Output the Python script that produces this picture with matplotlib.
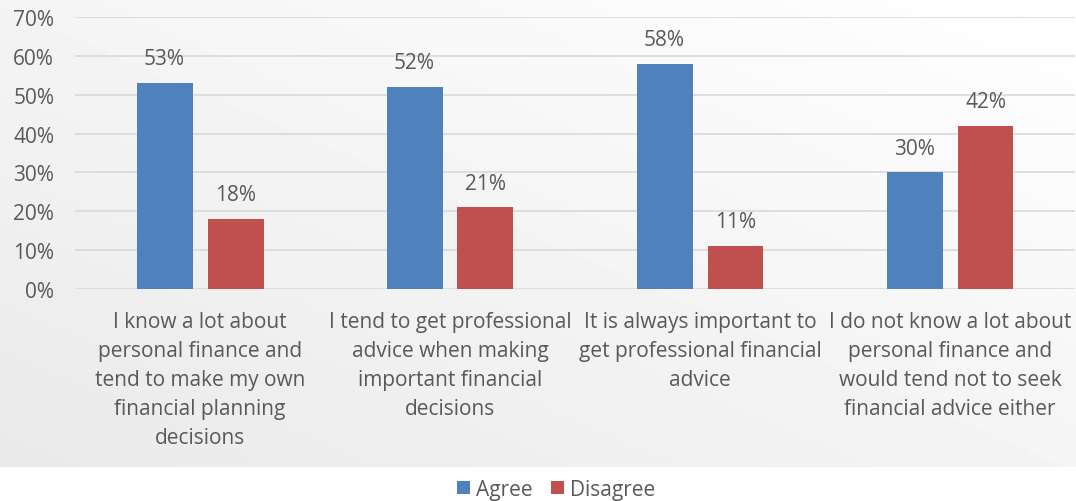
import numpy as np
from matplotlib import pyplot as plt
from matplotlib.ticker import FuncFormatter

categories = [
    "I know a lot about\npersonal finance and\ntend to make my own\nfinancial planning\ndecisions",
    "I tend to get professional\nadvice when making\nimportant financial\ndecisions",
    "It is always important to\nget professional financial\nadvice",
    "I do not know a lot about\npersonal finance and\nwould tend not to seek\nfinancial advice either",
]
agree = [53, 52, 58, 30]
disagree = [18, 21, 11, 42]

text_color = '#595959'
plt.rcParams['font.family'] = ['Open Sans', 'DejaVu Sans']
plt.rcParams['font.size'] = 15

fig = plt.figure(figsize=(10.76, 5.02), dpi=100)

# soft gradient panel behind the chart
bg = fig.add_axes([0, 34 / 502, 1, 468 / 502], zorder=0)
gx, gy = np.meshgrid(np.linspace(0, 1, 200), np.linspace(0, 1, 100))
shade = 1 - 0.5 * ((1 - gx) + gy) / 2 * 0.17
bg.imshow(shade, cmap='gray', vmin=0, vmax=1, aspect='auto', extent=[0, 1, 0, 1])
bg.axis('off')

ax = fig.add_axes([75 / 1076, 212 / 502, 1000 / 1076, 272 / 502], zorder=1)
ax.patch.set_alpha(0)

x = np.arange(len(categories))
w = 0.224
off = (w + 0.06) / 2
b1 = ax.bar(x - off, agree, w, color='#4f81bd', label='Agree', zorder=3)
b2 = ax.bar(x + off, disagree, w, color='#c0504d', label='Disagree', zorder=3)

for bars, vals in ((b1, agree), (b2, disagree)):
    for r, v in zip(bars, vals):
        ax.annotate(f'{v}%', (r.get_x() + r.get_width() / 2, v), xytext=(0, 10),
                    textcoords='offset points', ha='center', va='bottom', color=text_color)

ax.set_ylim(0, 70)
ax.set_xlim(-0.5, 3.5)
ax.set_yticks(range(0, 71, 10))
ax.yaxis.set_major_formatter(FuncFormatter(lambda v, p: f'{v:.0f}%'))
ax.set_xticks(x)
ax.set_xticklabels(categories, linespacing=1.5)
ax.grid(axis='y', color='#d9d9d9', linewidth=1.2, zorder=0)
for s in ax.spines.values():
    s.set_visible(False)
ax.tick_params(length=0, colors=text_color)
ax.tick_params(axis='y', pad=15)
ax.tick_params(axis='x', pad=16)

fig.legend(loc='lower center', bbox_to_anchor=(0.517, -0.035), ncol=2, frameon=False,
           handlelength=0.6, handleheight=0.6, columnspacing=0.9, handletextpad=0.3,
           labelcolor=text_color)

plt.savefig('out.png', dpi=100)
